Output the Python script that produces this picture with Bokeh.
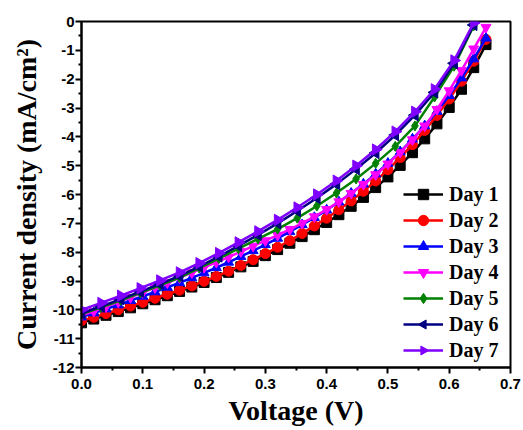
import math
from bokeh.plotting import figure
from bokeh.models import FixedTicker, Legend, LegendItem, Range1d
from bokeh.embed import file_html
from bokeh.resources import INLINE

# ---- data -------------------------------------------------------------
v_fine = [0.00, 0.02, 0.04, 0.06, 0.08, 0.10, 0.12, 0.14, 0.16, 0.18,
          0.20, 0.22, 0.24, 0.26, 0.28, 0.30, 0.32, 0.34, 0.36, 0.38,
          0.40, 0.42, 0.44, 0.46, 0.48, 0.50, 0.52, 0.54, 0.56, 0.58,
          0.60, 0.62, 0.64, 0.66]
v_coarse = [0.000, 0.032, 0.064, 0.096, 0.128, 0.160, 0.192, 0.224, 0.256,
            0.288, 0.320, 0.352, 0.384, 0.416, 0.448, 0.480, 0.512, 0.544,
            0.576, 0.608, 0.640]

day1 = [-10.45, -10.32, -10.19, -10.06, -9.93, -9.79, -9.65, -9.51, -9.36, -9.21,
        -9.05, -8.88, -8.70, -8.51, -8.32, -8.12, -7.91, -7.69, -7.46, -7.22,
        -6.97, -6.70, -6.41, -6.10, -5.76, -5.39, -4.99, -4.55, -4.07, -3.55,
        -2.98, -2.35, -1.60, -0.80]
day2 = [-10.38, -10.26, -10.13, -10.00, -9.87, -9.74, -9.60, -9.46, -9.32, -9.17,
        -9.01, -8.84, -8.66, -8.46, -8.26, -8.05, -7.83, -7.60, -7.35, -7.09,
        -6.82, -6.53, -6.22, -5.89, -5.53, -5.14, -4.72, -4.27, -3.78, -3.26,
        -2.69, -2.07, -1.38, -0.62]
day3 = [-10.25, -10.11, -9.97, -9.83, -9.68, -9.53, -9.38, -9.22, -9.06, -8.89,
        -8.72, -8.54, -8.35, -8.15, -7.95, -7.74, -7.52, -7.29, -7.05, -6.80,
        -6.54, -6.26, -5.96, -5.64, -5.29, -4.92, -4.52, -4.08, -3.62, -3.12,
        -2.57, -1.96, -1.30, -0.58]
day4 = [-10.20, -10.05, -9.89, -9.73, -9.57, -9.40, -9.23, -9.06, -8.89, -8.71,
        -8.53, -8.35, -8.17, -7.98, -7.79, -7.60, -7.41, -7.21, -7.00, -6.77,
        -6.52, -6.25, -5.96, -5.65, -5.31, -4.94, -4.54, -4.10, -3.62, -3.05,
        -2.40, -1.70, -0.95, -0.20]
day5 = [-10.15, -9.91, -9.67, -9.41, -9.15, -8.88, -8.55, -8.22, -7.88,
        -7.54, -7.20, -6.82, -6.40, -5.95, -5.46, -4.92, -4.33, -3.62,
        -2.62, -1.55, -0.15]
day6 = [-10.12, -9.88, -9.63, -9.37, -9.10, -8.82, -8.50, -8.15, -7.78,
        -7.40, -7.00, -6.57, -6.12, -5.64, -5.12, -4.56, -3.94, -3.25,
        -2.46, -1.45, -0.12]
day7 = [-10.00, -9.76, -9.51, -9.25, -8.98, -8.70, -8.38, -8.03, -7.66,
        -7.28, -6.88, -6.45, -6.00, -5.52, -5.00, -4.44, -3.82, -3.13,
        -2.35, -1.35, -0.05]

labels = ["Day 1", "Day 2", "Day 3", "Day 4", "Day 5", "Day 6", "Day 7"]
x_ticks = [0.0, 0.1, 0.2, 0.3, 0.4, 0.5, 0.6, 0.7]
x_tick_labels = ["0.0", "0.1", "0.2", "0.3", "0.4", "0.5", "0.6", "0.7"]
y_ticks = [0, -1, -2, -3, -4, -5, -6, -7, -8, -9, -10, -11, -12]
y_tick_labels = ["0", "-1", "-2", "-3", "-4", "-5", "-6", "-7", "-8", "-9", "-10", "-11", "-12"]

# ---- styling ----------------------------------------------------------
# marker: scatter marker name, or ("ngon", angle) for sideways triangles
series = [
    (v_fine, day1, "#000000", "square"),
    (v_fine, day2, "#ff0000", "circle"),
    (v_fine, day3, "#0000ff", "triangle"),
    (v_fine, day4, "#ff00ff", "inverted_triangle"),
    (v_coarse, day5, "#008000", "diamond"),
    (v_coarse, day6, "#000080", ("ngon", math.pi / 2)),
    (v_coarse, day7, "#8000ff", ("ngon", -math.pi / 2)),
]

p = figure(width=523, height=430, output_backend="svg", toolbar_location=None,
           x_range=Range1d(0, 0.7), y_range=Range1d(-12, 0),
           min_border_left=81, min_border_top=21, min_border_right=13,
           min_border_bottom=63)
p.background_fill_color = "white"
p.border_fill_color = "white"
p.outline_line_color = "black"
p.outline_line_width = 2
p.xgrid.visible = False
p.ygrid.visible = False

items = []
for (xs, ys, col, mk), lab in zip(series, labels):
    r1 = p.line(xs, ys, line_color=col, line_width=2.5)
    if isinstance(mk, tuple):
        r2 = p.ngon(x=xs, y=ys, radius=6.5, radius_units="screen", n=3,
                    angle=mk[1], fill_color=col, line_color=col, line_width=1)
    else:
        r2 = p.scatter(x=xs, y=ys, marker=mk, size=10, fill_color=col,
                       line_color=col, line_width=1)
    items.append(LegendItem(label=lab, renderers=[r1, r2]))

legend = Legend(items=items, location=(322, 4), padding=0, margin=0,
                spacing=0, glyph_width=40, glyph_height=26, label_height=26,
                label_standoff=6, border_line_alpha=0,
                background_fill_color="white", background_fill_alpha=1.0,
                label_text_font="Liberation Serif", label_text_font_style="bold",
                label_text_font_size="20px", label_text_color="black")
p.add_layout(legend)

for ax in (p.xaxis[0], p.yaxis[0]):
    ax.axis_line_width = 2
    ax.axis_line_color = "black"
    ax.major_tick_line_width = 2
    ax.minor_tick_line_width = 2
    ax.major_tick_in = 0
    ax.major_tick_out = 6
    ax.minor_tick_in = 0
    ax.minor_tick_out = 3
    ax.major_label_text_font = "Liberation Sans"
    ax.major_label_text_font_style = "bold"
    ax.major_label_text_font_size = "15px"
    ax.major_label_text_color = "black"
    ax.axis_label_text_font = "Liberation Serif"
    ax.axis_label_text_font_style = "bold"
    ax.axis_label_text_color = "black"

p.xaxis[0].ticker = FixedTicker(ticks=x_ticks,
                                minor_ticks=[0.05, 0.15, 0.25, 0.35, 0.45, 0.55, 0.65])
p.xaxis[0].major_label_overrides = dict(zip(x_ticks, x_tick_labels))
p.xaxis[0].axis_label = "Voltage (V)"
p.xaxis[0].axis_label_text_font_size = "28px"
p.xaxis[0].major_label_standoff = 5
p.xaxis[0].axis_label_standoff = 3

p.yaxis[0].ticker = FixedTicker(ticks=y_ticks,
                                minor_ticks=[-0.5 - i for i in range(12)])
p.yaxis[0].major_label_overrides = dict(zip(y_ticks, y_tick_labels))
p.yaxis[0].axis_label = "Current density (mA/cm²)"
p.yaxis[0].axis_label_text_font_size = "28px"
p.yaxis[0].major_label_standoff = 1
p.yaxis[0].axis_label_standoff = 8

open("out.html", "w").write(file_html(p, INLINE))
